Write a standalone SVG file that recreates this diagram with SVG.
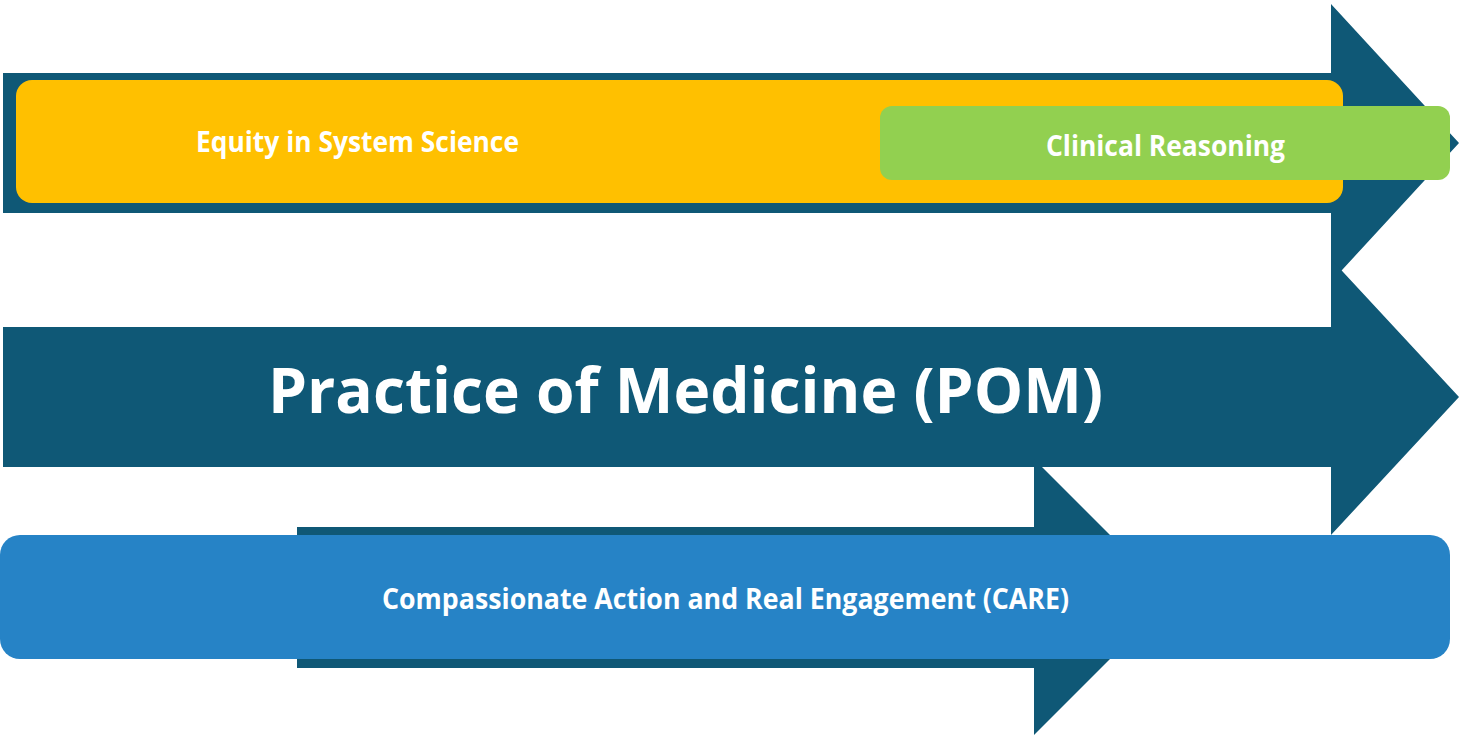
<svg xmlns="http://www.w3.org/2000/svg" width="1459" height="735" viewBox="0 0 1459 735">
  <style>
    .arrow { fill: #0F5876; }
    .label { fill: #FFFFFF; font-family: "Open Sans", "Noto Sans", "Liberation Sans", sans-serif; font-weight: bold; text-anchor: middle; }
    .small { font-size: 29px; }
    .big { font-size: 63px; }
  </style>
  <rect width="1459" height="735" fill="#FFFFFF"/>

  <!-- Background arrows -->
  <g id="connectors">
    <polygon class="arrow" points="3,73 1331,73 1331,4 1459,143 1331,282 1331,213 3,213"/>
    <polygon class="arrow" points="3,327 1331,327 1331,259 1459,397 1331,535 1331,467 3,467"/>
    <polygon class="arrow" points="297,527 1034,527 1034,459 1172,597 1034,735 1034,668 297,668"/>
  </g>

  <g id="equity">
    <rect x="16" y="80" width="1327" height="123" rx="16" fill="#FFC000"/>
    <text class="label small" x="357.5" y="152" textLength="323" lengthAdjust="spacingAndGlyphs">Equity in System Science</text>
  </g>

  <g id="clinical-reasoning">
    <rect x="880" y="106" width="570" height="74" rx="12" fill="#92D050"/>
    <text class="label small" x="1165.5" y="156" textLength="239" lengthAdjust="spacingAndGlyphs">Clinical Reasoning</text>
  </g>

  <g id="pom">
    <text class="label big" x="685.5" y="413" textLength="835" lengthAdjust="spacingAndGlyphs">Practice of Medicine (POM)</text>
  </g>

  <g id="care">
    <rect x="0" y="535" width="1450" height="124" rx="20" fill="#2683C6"/>
    <text class="label small" x="725.5" y="609" textLength="687" lengthAdjust="spacingAndGlyphs">Compassionate Action and Real Engagement (CARE)</text>
  </g>
</svg>
